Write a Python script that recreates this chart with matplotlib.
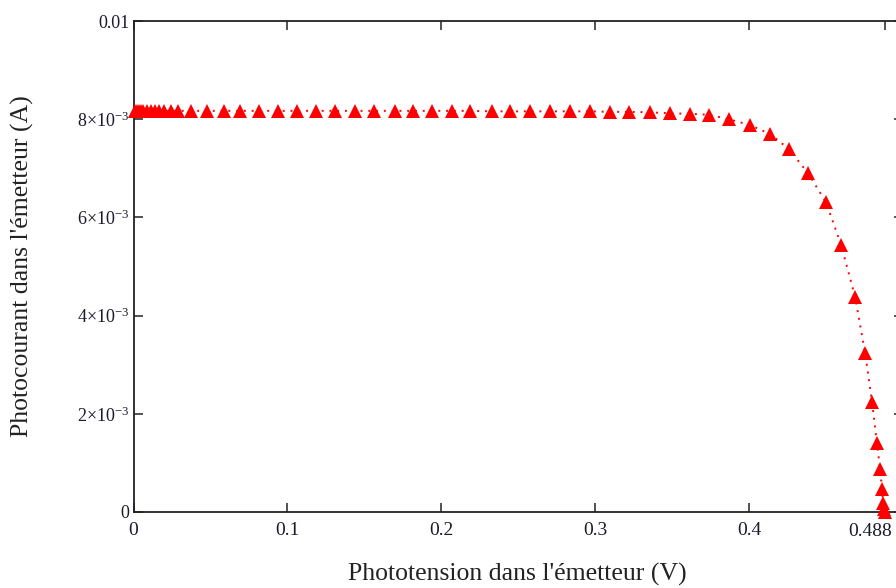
import matplotlib
matplotlib.use("Agg")
import matplotlib.pyplot as plt
from matplotlib.ticker import FixedLocator, FixedFormatter
from matplotlib.transforms import blended_transform_factory, ScaledTranslation

# Phototension (V)
voltage = [0.00097, 0.00227, 0.00357, 0.00487, 0.00617, 0.00877, 0.01137, 0.01397,
           0.01656, 0.01981, 0.02436, 0.0289, 0.03735, 0.04774, 0.05879, 0.06918,
           0.08152, 0.09386, 0.1062, 0.1185, 0.1309, 0.1439, 0.1562, 0.1699,
           0.1816, 0.1939, 0.2069, 0.2186, 0.2329, 0.2446, 0.2576, 0.2705,
           0.2835, 0.2965, 0.3095, 0.3219, 0.3355, 0.3485, 0.3615, 0.3738,
           0.3868, 0.4005, 0.4134, 0.4258, 0.4381, 0.4498, 0.4596, 0.4687,
           0.4752, 0.4797, 0.4829, 0.4849, 0.4862, 0.4868, 0.4875, 0.4878]
# Photocourant (mA)
current_mA = [8.17, 8.17, 8.17, 8.17, 8.17, 8.17, 8.17, 8.17,
              8.17, 8.17, 8.17, 8.17, 8.17, 8.17, 8.17, 8.17,
              8.17, 8.17, 8.17, 8.17, 8.17, 8.17, 8.17, 8.17,
              8.17, 8.17, 8.17, 8.17, 8.16, 8.16, 8.16, 8.16,
              8.16, 8.16, 8.15, 8.15, 8.14, 8.12, 8.11, 8.09,
              8.00, 7.88, 7.70, 7.39, 6.90, 6.31, 5.44, 4.38,
              3.24, 2.24, 1.40, 0.88, 0.47, 0.18, 0.06, 0.0]
current = [c * 1e-3 for c in current_mA]

xticks = [0, 0.1, 0.2, 0.3, 0.4, 0.488]
xticklabels = ["0", "0.1", "0.2", "0.3", "0.4", "0.488"]
yticks = [0, 2e-3, 4e-3, 6e-3, 8e-3, 0.01]
yticklabels = ["0", r"$2{\times}10^{-3}$", r"$4{\times}10^{-3}$",
               r"$6{\times}10^{-3}$", r"$8{\times}10^{-3}$", "0.01"]

plt.rcParams['font.family'] = ['Liberation Serif', 'DejaVu Serif']
plt.rcParams['mathtext.fontset'] = 'custom'
plt.rcParams['mathtext.rm'] = 'Liberation Serif'
plt.rcParams['mathtext.it'] = 'Liberation Serif'

W, H = 896, 588
fig = plt.figure(figsize=(W / 100, H / 100), dpi=100)
left, right, bottom, top = 133.5, 903.3, 512, 21
ax = fig.add_axes([left / W, (H - bottom) / H, (right - left) / W, (bottom - top) / H])

ax.plot(voltage, current, color='red', linestyle=(0, (1.0, 3.0)), linewidth=1.4,
        marker='^', markersize=10, markeredgewidth=0, clip_on=False, zorder=3)

ax.set_xlim(0, 0.5)
ax.set_ylim(0, 0.01)

ax.xaxis.set_major_locator(FixedLocator(xticks))
ax.xaxis.set_major_formatter(FixedFormatter(xticklabels[:-1] + [""]))
ax.yaxis.set_major_locator(FixedLocator(yticks))
ax.yaxis.set_major_formatter(FixedFormatter(yticklabels))

ax.tick_params(direction='in', length=6.5, width=1.1, top=True, right=True,
               colors='#222222', labelcolor='#1a1a2e')
ax.tick_params(axis='x', pad=7, labelsize=14)
ax.tick_params(axis='y', pad=3, labelsize=13)
for s in ax.spines.values():
    s.set_linewidth(1.3)
    s.set_color('#222222')

# last x tick label shifted left, as in the reference
trans = blended_transform_factory(ax.transData, ax.transAxes) + \
    ScaledTranslation(-0.15, -0.105, fig.dpi_scale_trans)
ax.text(xticks[-1], 0, xticklabels[-1], transform=trans, ha='center', va='top',
        fontsize=14, color='#1a1a2e')

ax.set_xlabel("Phototension dans l'émetteur (V)", fontsize=18.5, color='#222222')
ax.set_ylabel("Photocourant dans l'émetteur (A)", fontsize=18.5, color='#222222')
ax.yaxis.set_label_coords((22 - left) / (right - left), 0.5)
ax.xaxis.set_label_coords((517 - left) / (right - left), -(574 - bottom) / (bottom - top))
ax.xaxis.label.set_va('center')
ax.yaxis.label.set_va('center')

fig.savefig("out.png", dpi=100)
